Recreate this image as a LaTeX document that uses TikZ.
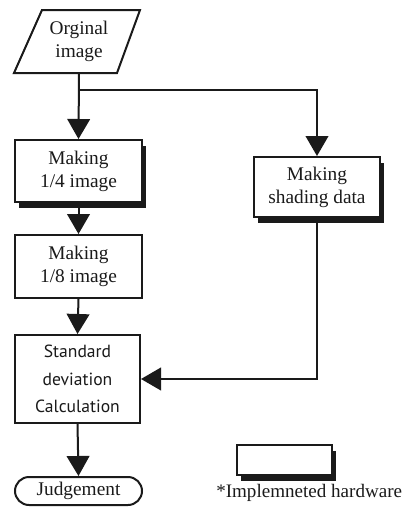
\documentclass[tikz,border=0pt]{standalone}
\usepackage{fontspec}
\setmainfont{Liberation Serif}
\newfontfamily\calcfont{PT Sans}
\usepackage{tikz}
\usetikzlibrary{shapes.misc,arrows.meta,shadows,positioning}
\definecolor{ink}{HTML}{1A1A1A}
\tikzset{
  txt/.style={font=\fontsize{14.5}{17.4}\selectfont,text=ink,align=center,inner sep=0pt},
  proc/.style={txt,draw=ink,line width=1.5pt,fill=white,minimum width=95.25pt},
  hw/.style={proc,drop shadow={shadow xshift=3pt,shadow yshift=-4.5pt,fill=ink,opacity=1}},
  term/.style={txt,draw=ink,line width=1.5pt,rounded rectangle,minimum width=95.25pt,minimum height=21pt},
  flow/.style={ink,line width=1.5pt,-{Triangle[length=15pt,width=17pt]}},
  wire/.style={ink,line width=1.5pt},
}

\begin{document}
\begin{tikzpicture}[x=0.75pt,y=-0.75pt]
  \useasboundingbox (0,0) rectangle (406,511);
  % input
  \draw[wire,line join=miter] (42,10) -- (140,10) -- (117,73) -- (14,73) -- cycle;
  \node[txt,minimum height=47.25pt] (orig) at (79,41.5) {Orginal\\image};
  \coordinate (split) at (79,90);
  % left column
  \node[hw,minimum height=46.5pt] (quarter) at (78.5,171) {Making\\1/4 image};
  \node[proc,minimum height=47.25pt] (eighth) at (78.5,266.5) {Making\\1/8 image};
  \node[proc,minimum width=93.75pt,minimum height=66pt,font=\calcfont\fontsize{13.2}{20.5}\selectfont]
    (stddev) at (77.5,379) {Standard\\deviation\\Calculation};
  \node[term] (judge) at (78.5,491) {Judgement};
  % right branch
  \node[hw,minimum width=94.5pt,minimum height=45pt] (shade) at (317,187) {Making\\shading data};
  % legend
  \node[hw,minimum width=71.25pt,minimum height=22.5pt] (key) at (284.5,460) {};
  \node[txt,anchor=west,font=\fontsize{14.3}{17}\selectfont] (keytxt) at (216,493) {*Implemneted hardware};
  % connectors
  \draw[flow] (orig.south) -- (quarter.north);
  \draw[flow] (split) -| (shade.north);
  \draw[flow] (quarter.south) -- (eighth.north);
  \draw[flow] (eighth.south) -- (stddev.north);
  \draw[flow] (shade.south) |- (stddev.east);
  \draw[flow] (stddev.south) -- (judge.north);
\end{tikzpicture}
\end{document}
